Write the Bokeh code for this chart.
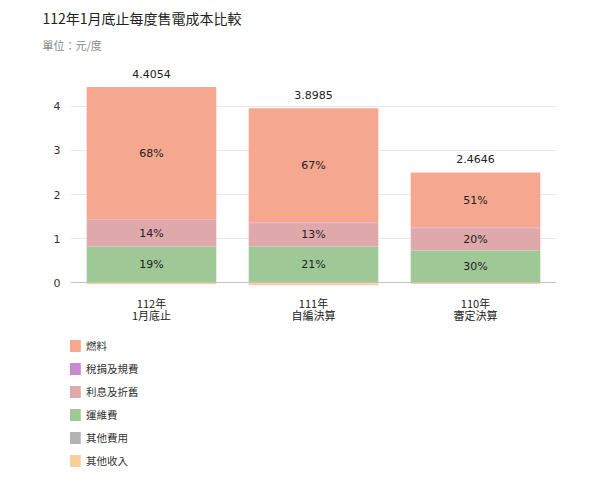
from bokeh.plotting import figure
from bokeh.layouts import column
from bokeh.models import (ColumnDataSource, FactorRange, Range1d, FixedTicker, Legend, LegendItem,
                          Title, Span)
from bokeh.core.properties import value
from bokeh.embed import file_html
from bokeh.resources import INLINE

# ---- data ----
categories = ["112年\n1月底止", "111年\n自編決算", "110年\n審定決算"]
fuel = [3.01, 2.60, 1.25]
tax = [0.005, 0.02, 0.02]
interest = [0.61, 0.52, 0.50]
om = [0.82, 0.82, 0.73]
other_cost = [0.0, 0.0, 0.0]
other_income = [-0.04, -0.06, -0.035]
total_labels = ["4.4054", "3.8985", "2.4646"]
fuel_pct = ["68%", "67%", "51%"]
interest_pct = ["14%", "13%", "20%"]
om_pct = ["19%", "21%", "30%"]
y_ticks = [0, 1, 2, 3, 4]

series_names = ["燃料", "稅捐及規費", "利息及折舊", "運維費", "其他費用", "其他收入"]
colors = {"燃料": "#F5A78F", "稅捐及規費": "#C689D0", "利息及折舊": "#DFA9AC",
          "運維費": "#9FC897", "其他費用": "#B3B3B3", "其他收入": "#F9D09B"}

CJK = "Noto Sans CJK TC"
NUM = "DejaVu Sans"

data = dict(cat=categories, fuel=fuel, tax=tax, interest=interest, om=om,
            other_cost=other_cost, other_income=other_income)
om_mid, int_mid, fuel_mid, tops = [], [], [], []
for i in range(len(categories)):
    b0 = other_cost[i]
    om_mid.append(b0 + om[i] / 2)
    b1 = b0 + om[i]
    int_mid.append(b1 + interest[i] / 2)
    b2 = b1 + interest[i] + tax[i]
    fuel_mid.append(b2 + fuel[i] / 2)
    tops.append(b2 + fuel[i])
data.update(om_mid=om_mid, int_mid=int_mid, fuel_mid=fuel_mid, tops=tops,
            total_labels=total_labels, fuel_pct=fuel_pct, interest_pct=interest_pct, om_pct=om_pct)
src = ColumnDataSource(data)

p = figure(width=600, height=330, x_range=FactorRange(*categories), y_range=Range1d(-0.136, 5.045),
           output_backend="svg", toolbar_location=None,
           min_border_left=70, min_border_right=44, min_border_top=60, min_border_bottom=42)
p.outline_line_color = None

stackers = ["other_cost", "om", "interest", "tax", "fuel"]
stack_colors = [colors["其他費用"], colors["運維費"], colors["利息及折舊"], colors["稅捐及規費"], colors["燃料"]]
rs = p.vbar_stack(stackers, x="cat", width=0.8, source=src, color=stack_colors, line_color=None)
r_inc = p.vbar(x="cat", top=0, bottom="other_income", width=0.8, source=src,
               color=colors["其他收入"], line_color=None)

p.add_layout(Span(location=0, dimension="width", line_color="#c4c4c4", line_width=1))

txt = dict(source=src, text_align="center", text_baseline="middle", text_font_size="11px",
           text_color="#222222", text_font=value(NUM))
p.text(x="cat", y="fuel_mid", text="fuel_pct", **txt)
p.text(x="cat", y="int_mid", text="interest_pct", **txt)
p.text(x="cat", y="om_mid", text="om_pct", **txt)
p.text(x="cat", y="tops", text="total_labels", y_offset=-13, **txt)

p.yaxis.ticker = FixedTicker(ticks=y_ticks)
p.yaxis.axis_line_color = None
p.yaxis.major_tick_line_color = None
p.yaxis.minor_tick_line_color = None
p.yaxis.major_label_text_font = NUM
p.yaxis.major_label_text_font_size = "11px"
p.yaxis.major_label_text_color = "#333333"
p.yaxis.major_label_standoff = 4
p.xaxis.axis_line_color = None
p.xaxis.major_tick_line_color = None
p.xaxis.major_label_text_font = CJK
p.xaxis.major_label_text_font_size = "11px"
p.xaxis.major_label_text_color = "#222222"
p.xaxis.major_label_text_line_height = 0.75
p.xaxis.major_label_standoff = 0
p.xgrid.grid_line_color = None
p.ygrid.grid_line_color = "#e8e8e8"

p.add_layout(Title(text="單位：元/度", text_font=CJK, text_font_size="11px", text_color="#888888",
                   text_font_style="normal", align="left", offset=-28, standoff=15), "above")
p.add_layout(Title(text="112年1月底止每度售電成本比較", text_font=CJK, text_font_size="14px",
                   text_color="#222222", text_font_style="normal", align="left", offset=-28,
                   standoff=0), "above")

# legend figure
lg = figure(width=600, height=155, x_range=Range1d(0, 1), y_range=Range1d(0, 1),
            output_backend="svg", toolbar_location=None,
            min_border_left=0, min_border_right=0, min_border_top=0, min_border_bottom=0)
lg.outline_line_color = None
lg.axis.visible = False
lg.grid.grid_line_color = None
offscreen = ColumnDataSource(dict(l=[-10], r=[-9], b=[-10], t=[-9]))
items = []
for n in series_names:
    r = lg.quad(left="l", right="r", bottom="b", top="t", source=offscreen,
                color=colors[n], line_color=None)
    items.append(LegendItem(label=n, renderers=[r]))
legend = Legend(items=items, orientation="vertical", location=(-5, 17),
                label_text_font=CJK, label_text_font_size="10.5px", label_text_color="#333333",
                glyph_width=17, glyph_height=15, label_height=13, spacing=8, padding=0, margin=0,
                border_line_color=None, background_fill_alpha=0, label_standoff=4)
lg.add_layout(legend, "center")

layout = column(p, lg, spacing=0)
open("out.html", "w").write(file_html(layout, INLINE))
